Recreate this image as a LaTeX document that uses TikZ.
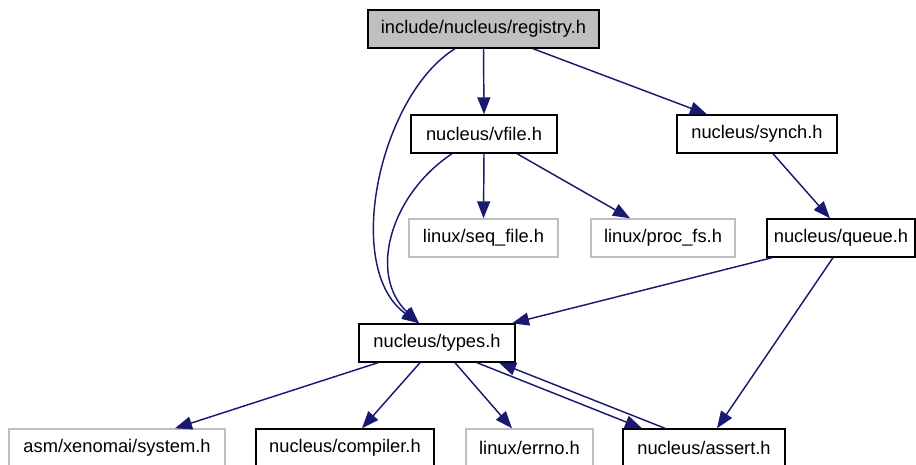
\documentclass[tikz,border=0pt]{standalone}
\usepackage{fontspec}
\setmainfont{Liberation Sans}
\usetikzlibrary{arrows.meta}
\definecolor{edgeblue}{HTML}{191970}
\definecolor{boxgray}{HTML}{BFBFBF}
\tikzset{
  box/.style={draw=black, line width=1.4pt, rectangle, inner sep=0pt, minimum height=38pt, font=\fontsize{18.3}{21}\selectfont},
  ext/.style={box, draw=boxgray},
  root/.style={box, fill=boxgray},
  dep/.style={draw=edgeblue, line width=1.45pt, -{Triangle[length=17pt,width=13pt]}},
}
\begin{document}
\begin{tikzpicture}[x=1pt,y=-1pt]
\useasboundingbox (0,0) rectangle (916,465);
\node[root, minimum width=231pt] (registry) at (483.5,29) {include/nucleus/registry.h};
\node[box, minimum width=146pt] (vfile) at (484,134) {nucleus/vfile.h};
\node[box, minimum width=160pt] (synch) at (757,134) {nucleus/synch.h};
\node[ext, minimum width=149pt] (seqfile) at (483.5,238) {linux/seq\_file.h};
\node[ext, minimum width=144pt] (procfs) at (663,238) {linux/proc\_fs.h};
\node[box, minimum width=148pt] (queue) at (841,238) {nucleus/queue.h};
\node[box, minimum width=156pt] (types) at (437,343) {nucleus/types.h};
\node[ext, minimum width=216pt] (system) at (117,448) {asm/xenomai/system.h};
\node[box, minimum width=178pt] (compiler) at (345,448) {nucleus/compiler.h};
\node[ext, minimum width=127pt] (errno) at (529.5,448) {linux/errno.h};
\node[box, minimum width=162pt] (assert) at (704,448) {nucleus/assert.h};

\draw[dep] ([xshift=-28.5pt]registry.south) .. controls (380,95) and (342,268) .. ([xshift=-18pt]types.north);
\draw[dep] (registry.south) -- (vfile.north);
\draw[dep] ([xshift=49.5pt]registry.south) -- ([xshift=-50pt]synch.north);
\draw[dep] ([xshift=-32pt]vfile.south) .. controls (390,195) and (368,275) .. ([xshift=-18pt]types.north);
\draw[dep] (vfile.south) -- (seqfile.north);
\draw[dep] ([xshift=33pt]vfile.south) -- ([xshift=-33pt]procfs.north);
\draw[dep] ([xshift=16pt]synch.south) -- ([xshift=-11pt]queue.north);
\draw[dep] ([xshift=-69pt]queue.south) -- ([xshift=75pt]types.north);
\draw[dep] ([xshift=-8pt]queue.south) -- ([xshift=13pt]assert.north);
\draw[dep] ([xshift=-59pt]types.south) -- ([xshift=58pt]system.north);
\draw[dep] ([xshift=-17pt]types.south) -- ([xshift=17pt]compiler.north);
\draw[dep] ([xshift=18pt]types.south) -- ([xshift=-17.5pt]errno.north);
\draw[dep] ([xshift=40pt]types.south) -- ([xshift=-62pt]assert.north);
\draw[dep] ([xshift=-39pt]assert.north) -- ([xshift=62pt]types.south);
\end{tikzpicture}
\end{document}
